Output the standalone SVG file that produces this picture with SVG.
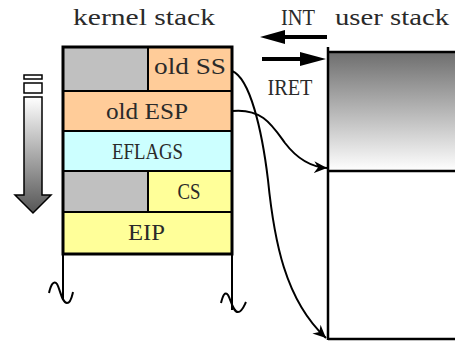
<svg xmlns="http://www.w3.org/2000/svg" width="455" height="341" viewBox="0 0 455 341">
  <style>
    .lbl { font-family: "Liberation Serif", "DejaVu Serif", serif; font-size: 24px; fill: #2a2a2a; }
    .cell { stroke: #000; stroke-width: 2; }
    .wire { fill: none; stroke: #000; stroke-width: 2; }
  </style>
  <defs>
    <linearGradient id="userFill" x1="0" y1="0" x2="0" y2="1">
      <stop offset="0" stop-color="#6e6e6e"/>
      <stop offset="1" stop-color="#ffffff"/>
    </linearGradient>
    <linearGradient id="growFill" x1="0" y1="0" x2="0" y2="1">
      <stop offset="0" stop-color="#ffffff"/>
      <stop offset="1" stop-color="#555555"/>
    </linearGradient>
    <marker id="head" markerWidth="14" markerHeight="12" refX="13" refY="6" orient="auto" markerUnits="userSpaceOnUse">
      <path d="M0,0 L13,6 L0,12 L4,6 Z" fill="#000"/>
    </marker>
  </defs>

  <!-- titles -->
  <text class="lbl" x="144" y="25" text-anchor="middle" textLength="142" lengthAdjust="spacingAndGlyphs">kernel stack</text>
  <text class="lbl" x="298" y="25" text-anchor="middle" textLength="34" lengthAdjust="spacingAndGlyphs">INT</text>
  <text class="lbl" x="392" y="25" text-anchor="middle" textLength="114" lengthAdjust="spacingAndGlyphs">user stack</text>
  <text class="lbl" x="290" y="95" text-anchor="middle" textLength="45" lengthAdjust="spacingAndGlyphs">IRET</text>

  <!-- stack growth direction -->
  <g id="growth">
    <rect x="24" y="75" width="18" height="4" fill="#fff" stroke="#000" stroke-width="1.5"/>
    <rect x="24" y="83" width="18" height="10" fill="#fff" stroke="#000" stroke-width="1.5"/>
    <path d="M24,97 H42 V195 H51 L33,213 L15,195 H24 Z" fill="url(#growFill)" stroke="#000" stroke-width="1.5"/>
  </g>

  <!-- kernel stack frame -->
  <g id="kernel-stack">
    <g id="old-ss">
      <rect class="cell" x="63" y="47" width="85" height="44" fill="#c0c0c0"/>
      <rect class="cell" x="148" y="47" width="84" height="44" fill="#ffcc99"/>
      <text class="lbl" x="190" y="74" text-anchor="middle" textLength="72" lengthAdjust="spacingAndGlyphs">old SS</text>
    </g>
    <g id="old-esp">
      <rect class="cell" x="63" y="91" width="169" height="40" fill="#ffcc99"/>
      <text class="lbl" x="147" y="119" text-anchor="middle" textLength="82" lengthAdjust="spacingAndGlyphs">old ESP</text>
    </g>
    <g id="eflags">
      <rect class="cell" x="63" y="131" width="169" height="40" fill="#ccffff"/>
      <text class="lbl" x="147.5" y="159" text-anchor="middle" textLength="71" lengthAdjust="spacingAndGlyphs">EFLAGS</text>
    </g>
    <g id="cs">
      <rect class="cell" x="63" y="171" width="85" height="41" fill="#c0c0c0"/>
      <rect class="cell" x="148" y="171" width="84" height="41" fill="#ffff99"/>
      <text class="lbl" x="189" y="199" text-anchor="middle" textLength="23" lengthAdjust="spacingAndGlyphs">CS</text>
    </g>
    <g id="eip">
      <rect class="cell" x="63" y="212" width="169" height="42" fill="#ffff99"/>
      <text class="lbl" x="146.5" y="240" text-anchor="middle" textLength="37" lengthAdjust="spacingAndGlyphs">EIP</text>
    </g>
    <rect x="63" y="47" width="169" height="207" fill="none" stroke="#000" stroke-width="3"/>
    <!-- open-ended sides with break marks -->
    <path class="wire" d="M63,254 V300"/>
    <path class="wire" d="M232,254 V310"/>
    <path class="wire" d="M49,293 C51,284 54,280 57,284 C60,289 62,303 67,303 C71,303 72,296 73,292"/>
    <path class="wire" d="M221,303 C223,295 225,291 228,295 C231,300 233,312 238,312 C242,312 244,306 246,302"/>
  </g>

  <!-- user stack -->
  <g id="user-stack">
    <rect x="328" y="52" width="130" height="119" fill="url(#userFill)"/>
    <path d="M328,52 H458 M328,171 H458 M328,339 H458" fill="none" stroke="#000" stroke-width="2.5"/>
    <path d="M328,47 V340" fill="none" stroke="#000" stroke-width="2.5"/>
  </g>

  <!-- transitions and saved-pointer links -->
  <g id="connectors">
    <g id="int-arrow">
      <path d="M327,37 H282" stroke="#000" stroke-width="4"/>
      <path d="M260,37 L285,30 L285,44 Z" fill="#000"/>
    </g>
    <g id="iret-arrow">
      <path d="M262,59 H305" stroke="#000" stroke-width="4"/>
      <path d="M326,59 L300,52 L300,66 Z" fill="#000"/>
    </g>
    <path class="wire" d="M232,71 C250,78 262,130 268,180 C274,240 285,300 326,338" marker-end="url(#head)"/>
    <path class="wire" d="M232,111 C262,108 272,125 285,143 C298,160 312,167 327,168" marker-end="url(#head)"/>
  </g>
</svg>
